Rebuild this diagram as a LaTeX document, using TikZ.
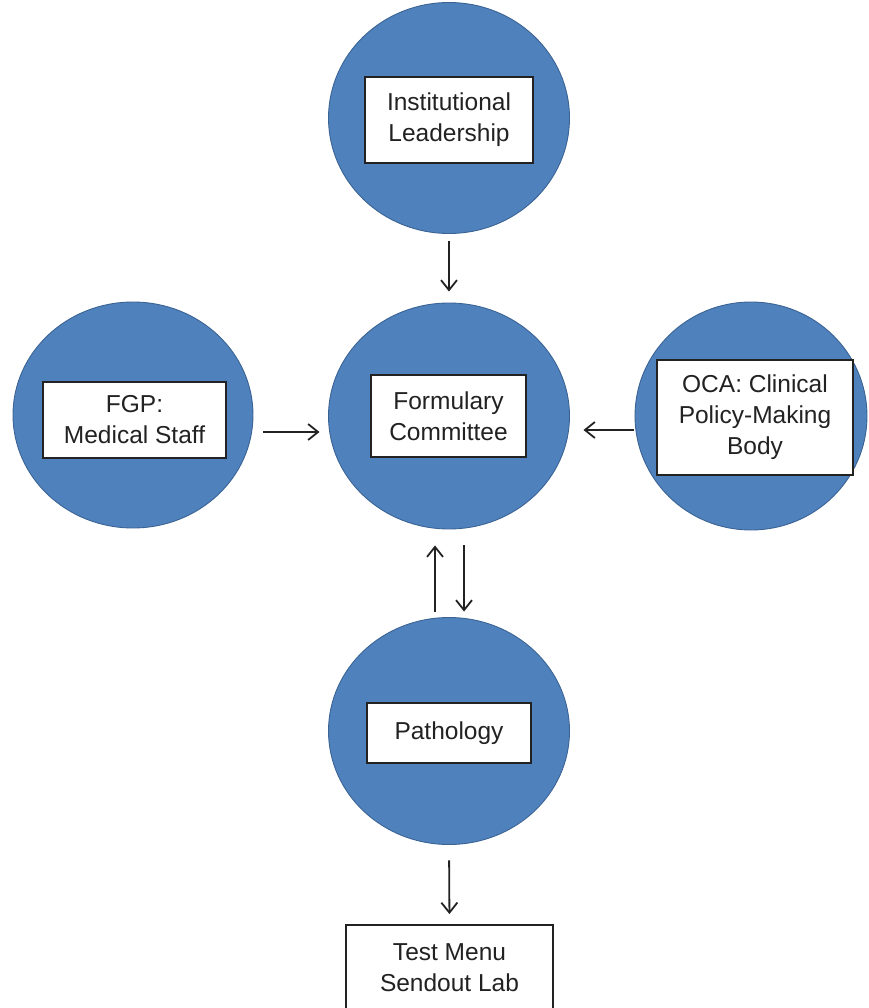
\documentclass[tikz,border=0pt]{standalone}
\usepackage{fontspec}
\setmainfont{Liberation Sans}
\usetikzlibrary{shapes.geometric,arrows.meta}
\definecolor{discblue}{HTML}{4F81BD}
\definecolor{discedge}{HTML}{3B6494}
\definecolor{inkgray}{HTML}{222222}
\begin{document}
\begin{tikzpicture}[x=1pt,y=-1pt,
  disc/.style={ellipse,draw=discedge,line width=0.9pt,fill=discblue,inner sep=0pt},
  label box/.style={rectangle,draw=inkgray,line width=1.9pt,fill=white,inner sep=0pt,
    align=center,text=inkgray,font=\fontsize{24.5}{31}\selectfont},
  arr/.style={draw=inkgray,line width=1.8pt,-{Straight Barb[length=10pt,width=16pt,line width=1.8pt]}}]
\useasboundingbox (0,0) rectangle (868,1008);
\begin{scope}
\clip (0,0) rectangle (868,1008);
% blue discs
\node[disc,minimum width=241pt,minimum height=231pt] (ct) at (449,118) {};
\node[disc,minimum width=241pt,minimum height=226pt] (cm) at (449,416) {};
\node[disc,minimum width=240pt,minimum height=226pt] (cl) at (133,415) {};
\node[disc,minimum width=232pt,minimum height=228pt] (cr) at (751,416) {};
\node[disc,minimum width=241pt,minimum height=227pt] (cp) at (449,731) {};
% labels
\node[label box,minimum width=168pt,minimum height=86pt] (lead) at (449,120) {Institutional\\Leadership};
\node[label box,minimum width=183pt,minimum height=76pt] (fgp) at (134.5,420) {FGP:\\Medical Staff};
\node[label box,minimum width=155pt,minimum height=82pt] (form) at (448.5,416) {Formulary\\Committee};
\node[label box,minimum width=196pt,minimum height=115pt] (oca) at (755,417.5) {OCA: Clinical\\Policy-Making\\Body};
\node[label box,minimum width=164pt,minimum height=60pt] (path) at (449,733) {Pathology};
\node[label box,minimum width=207pt,minimum height=86pt] (test) at (449.5,968) {Test Menu\\Sendout Lab};
% connectors
\draw[arr,shorten <=7pt,shorten >=11pt] (ct.south) -- (cm.north);
\draw[arr,shorten <=10pt,shorten >=8.5pt] ([yshift=-17pt]cl.east) -- ([yshift=-16pt]cm.west);
\draw[arr,shorten <=1pt,shorten >=13.5pt] ([yshift=-14pt]cr.west) -- ([yshift=-14pt]cm.east);
\draw[arr,shorten <=5.5pt,shorten >=16pt] ([xshift=-14pt]cp.north) -- ([xshift=-14pt]cm.south);
\draw[arr,shorten <=16pt,shorten >=5.5pt] ([xshift=15pt]cm.south) -- ([xshift=15pt]cp.north);
\draw[arr,shorten <=15.5pt,shorten >=10pt] (cp.south) -- (test.north);
\end{scope}
\end{tikzpicture}
\end{document}
